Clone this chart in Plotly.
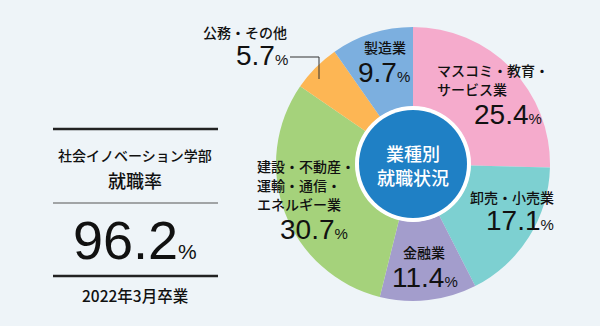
import plotly.graph_objects as go

# Employment by industry, Faculty of Social Innovation (graduates of March 2022)
categories = ["マスコミ・教育・サービス業", "卸売・小売業", "金融業",
              "建設・不動産・運輸・通信・エネルギー業", "公務・その他", "製造業"]
label_lines = [["マスコミ・教育・", "サービス業"], ["卸売・小売業"], ["金融業"],
               ["建設・不動産・", "運輸・通信・", "エネルギー業"], ["公務・その他"], ["製造業"]]
values = [25.4, 17.1, 11.4, 30.7, 5.7, 9.7]
colors = ["#f5abcc", "#7dd0d1", "#a39dcc", "#a5d27b", "#fdb654", "#7cafdf"]
employment_rate = 96.2
faculty = "社会イノベーション学部"
rate_title = "就職率"
period = "2022年3月卒業"
center_title = ["業種別", "就職状況"]

W, H = 600, 326
BG = "#eef4f8"
JP = "Noto Sans CJK JP"
NUM = "Liberation Sans"


def px(x):
    return x / W


def py(y):
    return 1 - y / H


cx, cy, r = 413, 164, 137

fig = go.Figure(go.Pie(
    labels=categories, values=values, sort=False, direction="clockwise",
    rotation=0, hole=0.42, textinfo="none", hoverinfo="skip",
    marker=dict(colors=colors, line=dict(width=0)),
    domain=dict(x=[px(cx - r), px(cx + r)], y=[py(cy + r), py(cy - r)]),
    showlegend=False,
))

shapes = [
    # white ring and blue disc in the middle of the donut
    dict(type="circle", xref="paper", yref="paper", x0=px(cx - 58), x1=px(cx + 58),
         y0=py(cy + 58), y1=py(cy - 58), fillcolor="white", line=dict(width=0)),
    dict(type="circle", xref="paper", yref="paper", x0=px(cx - 54), x1=px(cx + 54),
         y0=py(cy + 54), y1=py(cy - 54), fillcolor="#1f80c5", line=dict(width=0)),
    # leader line for the small slice
    dict(type="path", xref="paper", yref="paper",
         path=f"M {px(290)},{py(57)} L {px(319)},{py(57)} L {px(319)},{py(79)}",
         line=dict(color="#333333", width=1)),
    # rules of the left panel
    dict(type="line", xref="paper", yref="paper", x0=px(53), x1=px(218), y0=py(129), y1=py(129),
         line=dict(color="#222222", width=2.5)),
    dict(type="line", xref="paper", yref="paper", x0=px(53), x1=px(218), y0=py(203), y1=py(203),
         line=dict(color="#555555", width=1)),
    dict(type="line", xref="paper", yref="paper", x0=px(53), x1=px(218), y0=py(276), y1=py(276),
         line=dict(color="#222222", width=2.5)),
]

annotations = []


def text(x, y, s, size, family=JP, color="#111111", xanchor="center", weight=400):
    annotations.append(dict(x=px(x), y=py(y), xref="paper", yref="paper", text=s,
                            showarrow=False, xanchor=xanchor, yanchor="middle", borderpad=0,
                            font=dict(family=family, size=size, color=color, weight=weight)))


def pct(v, small):
    return f"{v}<span style='font-size:{small}px'>%</span>"


# slice labels: (name position, anchor, number position, number anchor)
spots = [
    ((436, 70), "left", (543, 114), "right"),
    ((512, 197), "center", (520, 220), "center"),
    ((424, 252), "center", (425, 277), "center"),
    ((256, 166), "left", (349, 229), "right"),
    ((288, 32), "right", (289, 55), "right"),
    ((385, 47), "center", (384, 72), "center"),
]
for lines, v, (npos, nanc, vpos, vanc) in zip(label_lines, values, spots):
    for i, ln in enumerate(lines):
        text(npos[0], npos[1] + i * 19, ln, 14, xanchor=nanc, weight=500)
    text(vpos[0], vpos[1], pct(v, 15), 28, family=NUM, xanchor=vanc)

# center caption
text(cx, 153, center_title[0], 18, color="white", weight=500)
text(cx, 177, center_title[1], 18, color="white", weight=500)

# left panel
text(135, 155, faculty, 14, weight=500)
text(135, 180, rate_title, 18, weight=500)
text(135, 240, pct(employment_rate, 21), 54, family=NUM)
text(135, 295, period, 15.5, weight=500)

fig.update_layout(
    width=W, height=H, margin=dict(l=0, r=0, t=0, b=0),
    paper_bgcolor=BG, plot_bgcolor=BG,
    shapes=shapes, annotations=annotations,
)

fig.write_html("out.html")
